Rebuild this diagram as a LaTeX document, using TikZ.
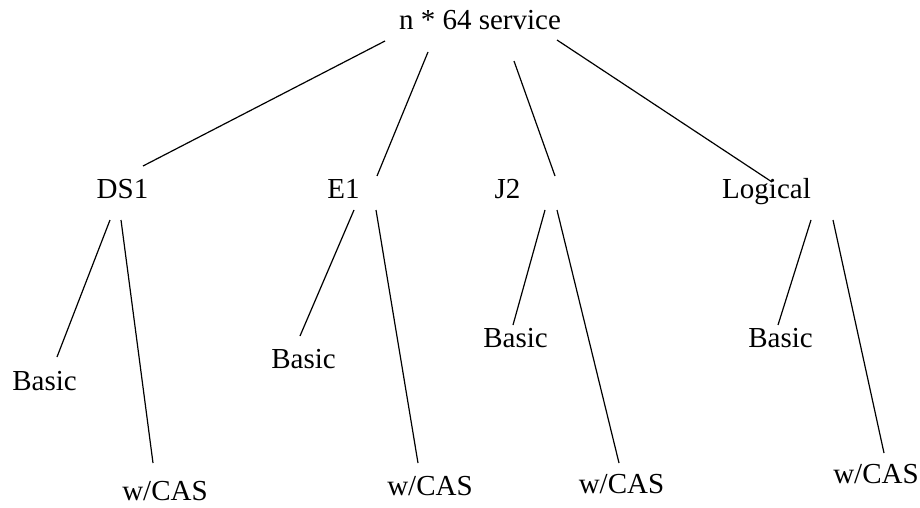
\documentclass[tikz,border=0pt]{standalone}
\usepackage{fontspec}
\setmainfont{Liberation Serif}
\usetikzlibrary{calc}
\begin{document}
\begin{tikzpicture}[x=1pt,y=-1pt,
  lbl/.style={anchor=base,inner sep=0pt,font=\fontsize{29}{34}\selectfont},
  edge/.style={draw=black,line width=1.2pt}]
\useasboundingbox[fill=white] (0,0) rectangle (920,508);
% nodes
\node[lbl] (root) at (480,29.5) {n * 64 service};
\node[lbl] (ds1) at (122.5,198) {DS1};
\node[lbl] (e1)  at (343.5,198) {E1};
\node[lbl] (j2)  at (507.5,198) {J2};
\node[lbl] (lg)  at (766.5,198) {Logical};
\node[lbl] (b1) at (44.5,390) {Basic};
\node[lbl] (b2) at (303.5,368) {Basic};
\node[lbl] (b3) at (515.5,347) {Basic};
\node[lbl] (b4) at (780.5,347) {Basic};
\node[lbl] (w1) at (165,500.5) {w/CAS};
\node[lbl] (w2) at (430,495) {w/CAS};
\node[lbl] (w3) at (621.5,493) {w/CAS};
\node[lbl] (w4) at (876,483) {w/CAS};
% connectors
\draw[edge] ($(root.base)+(-95,11.5)$) -- ($(ds1.base)+(20.5,-32)$);
\draw[edge] ($(root.base)+(-52,22.5)$) -- ($(e1.base)+(33.5,-22)$);
\draw[edge] ($(root.base)+(34,31.5)$) -- ($(j2.base)+(47.5,-22)$);
\draw[edge] ($(root.base)+(77,10.5)$) -- ($(lg.base)+(5.5,-16)$);
\draw[edge] ($(ds1.base)+(-12.5,22)$) -- ($(b1.base)+(12.5,-33)$);
\draw[edge] ($(ds1.base)+(-1.5,22)$) -- ($(w1.base)+(-12,-37.5)$);
\draw[edge] ($(e1.base)+(10.5,12)$) -- ($(b2.base)+(-3.5,-32)$);
\draw[edge] ($(e1.base)+(32.5,12)$) -- ($(w2.base)+(-12,-32)$);
\draw[edge] ($(j2.base)+(37.5,12)$) -- ($(b3.base)+(-2.5,-22)$);
\draw[edge] ($(j2.base)+(49.5,12)$) -- ($(w3.base)+(-2.5,-30)$);
\draw[edge] ($(lg.base)+(44.5,22)$) -- ($(b4.base)+(-2.5,-22)$);
\draw[edge] ($(lg.base)+(66.5,22)$) -- ($(w4.base)+(8,-30)$);
\end{tikzpicture}
\end{document}
